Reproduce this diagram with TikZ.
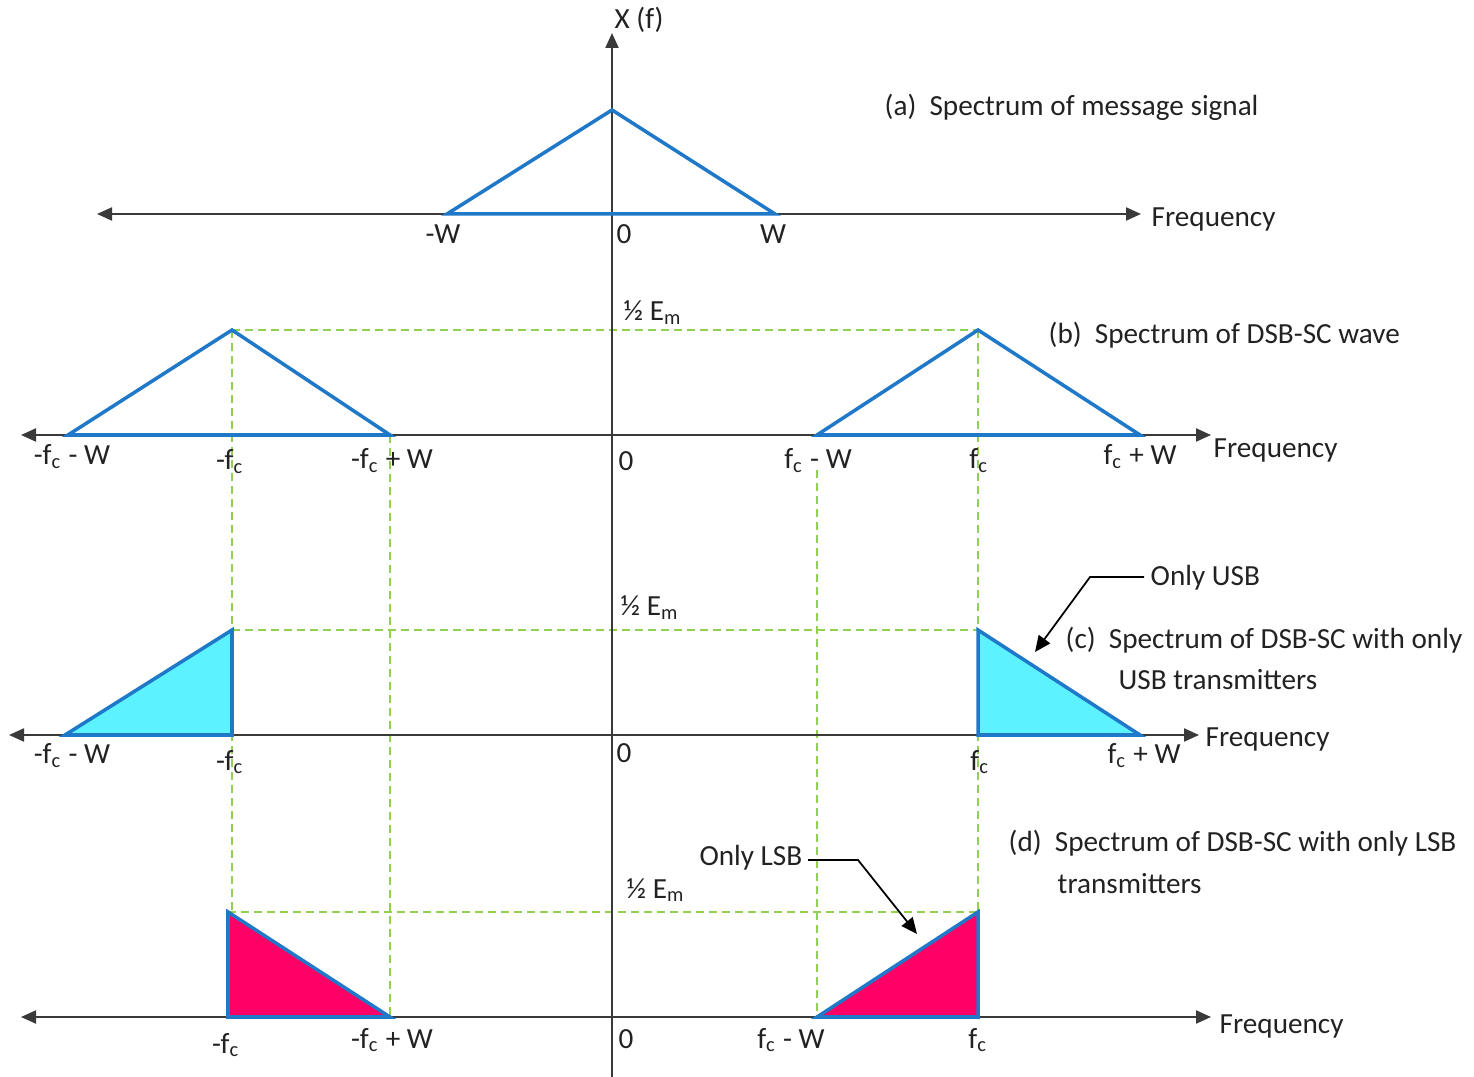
\documentclass[tikz,border=0pt]{standalone}
\usepackage{fontspec}
\setmainfont{Carlito}
\usetikzlibrary{arrows.meta,positioning}
\definecolor{Ink}{HTML}{222222}
\definecolor{Axis}{HTML}{3A3A3A}
\definecolor{Wave}{HTML}{1F78C8}
\definecolor{Guide}{HTML}{92D050}
\definecolor{UsbFill}{HTML}{5CF2FF}
\definecolor{LsbFill}{HTML}{FF0066}
\tikzset{
  axisline/.style={draw=Axis,line width=0.6pt,{Triangle[length=1.5mm,width=1.3mm]}-{Triangle[length=1.5mm,width=1.3mm]}},
  upaxis/.style={draw=Axis,line width=0.6pt,-{Triangle[length=1.5mm,width=1.3mm]}},
  spec/.style={draw=Wave,line width=1pt,line join=miter},
  guide/.style={draw=Guide,line width=0.75pt,dash pattern=on 0.8mm off 0.5mm},
  pointer/.style={draw=black,line width=0.5pt,-{Triangle[length=1.6mm,width=1.4mm]}},
  txt/.style={font=\fontsize{8.3}{10}\selectfont,text=Ink,inner sep=0pt},
  tick/.style={txt,anchor=base},
  caption/.style={txt,anchor=base west}
}

\begin{document}
\begin{tikzpicture}[x=0.01cm,y=-0.01cm]
  \useasboundingbox (0,0) rectangle (1474,1077);

  % guide lines
  \draw[guide] (232,330) -- (978,330);
  \draw[guide] (232,630) -- (978,630);
  \draw[guide] (228,912) -- (978,912);
  \draw[guide] (232,330) -- (232,912);
  \draw[guide] (390,435) -- (390,1017);
  \draw[guide] (817,470) -- (817,1017);
  \draw[guide] (978,330) -- (978,912);

  % axes
  \coordinate (ybot) at (612,1077);
  \coordinate (ytop) at (612,33);
  \draw[upaxis] (ybot) -- (ytop);
  \node[caption] (xf) at (614,29) {X (f)};

  \coordinate (a-l) at (97,214);  \coordinate (a-r) at (1141,214);
  \coordinate (b-l) at (21,435);  \coordinate (b-r) at (1211,435);
  \coordinate (c-l) at (9,735);   \coordinate (c-r) at (1199,735);
  \coordinate (d-l) at (21,1017); \coordinate (d-r) at (1211,1017);
  \draw[axisline] (a-l) -- (a-r);
  \draw[axisline] (b-l) -- (b-r);
  \draw[axisline] (c-l) -- (c-r);
  \draw[axisline] (d-l) -- (d-r);

  % (a) message spectrum
  \draw[spec] (447,214) -- (612,110) -- (775,214) -- cycle;
  \node[tick] (a-mw) at (443,244) {-W};
  \node[tick] (a-0) at (624,244) {0};
  \node[tick] (a-w) at (773,244) {W};
  \node[caption] (a-freq) at (1151,227) {Frequency};
  \node[caption] (a-cap) at (884,116) {(a)\ \ Spectrum of message signal};

  % (b) DSB-SC
  \draw[spec] (68,435) -- (232,330) -- (390,435) -- cycle;
  \draw[spec] (817,435) -- (978,330) -- (1140,435) -- cycle;
  \node[caption] (b-em) at (623,321) {½ E\textsubscript{m}};
  \node[tick] (b-1) at (72,465) {-f\textsubscript{c} - W};
  \node[tick] (b-2) at (230,470) {-f\textsubscript{c}};
  \node[tick] (b-3) at (392,469) {-f\textsubscript{c} + W};
  \node[tick] (b-0) at (626,471) {0};
  \node[tick] (b-4) at (818,469) {f\textsubscript{c} - W};
  \node[tick] (b-5) at (979,469) {f\textsubscript{c}};
  \node[tick] (b-6) at (1140,465) {f\textsubscript{c} + W};
  \node[caption] (b-freq) at (1213,458) {Frequency};
  \node[caption] (b-cap) at (1048,344) {(b)\ \ Spectrum of DSB-SC wave};

  % (c) USB only
  \draw[spec,fill=UsbFill] (65,735) -- (232,630) -- (232,735) -- cycle;
  \draw[spec,fill=UsbFill] (978,630) -- (978,735) -- (1140,735) -- cycle;
  \node[caption] (c-em) at (620,616) {½ E\textsubscript{m}};
  \node[tick] (c-1) at (72,764) {-f\textsubscript{c} - W};
  \node[tick] (c-2) at (230,770) {-f\textsubscript{c}};
  \node[tick] (c-0) at (624,762) {0};
  \node[tick] (c-5) at (980,770) {f\textsubscript{c}};
  \node[tick] (c-6) at (1144,764) {f\textsubscript{c} + W};
  \node[caption] (c-freq) at (1205,746) {Frequency};
  \node[caption] (c-cap) at (1065,649) {(c)\ \ Spectrum of DSB-SC with only};
  \node[caption] (c-cap2) at (1118,690) {USB transmitters};
  \node[caption] (usb) at (1150,586) {Only USB};
  \coordinate (usb-bend) at (1090,577);
  \coordinate (usb-tip) at (1035,652);
  \draw[pointer] ([xshift=-0.06cm]usb.west |- usb-bend) -- (usb-bend) -- (usb-tip);

  % (d) LSB only
  \draw[spec,fill=LsbFill] (228,912) -- (228,1017) -- (390,1017) -- cycle;
  \draw[spec,fill=LsbFill] (817,1017) -- (978,912) -- (978,1017) -- cycle;
  \node[caption] (d-em) at (626,898) {½ E\textsubscript{m}};
  \node[tick] (d-2) at (226,1053) {-f\textsubscript{c}};
  \node[tick] (d-3) at (392,1048) {-f\textsubscript{c} + W};
  \node[tick] (d-0) at (626,1048) {0};
  \node[tick] (d-4) at (791,1048) {f\textsubscript{c} - W};
  \node[tick] (d-5) at (978,1048) {f\textsubscript{c}};
  \node[caption] (d-freq) at (1219,1033) {Frequency};
  \node[caption] (d-cap) at (1008,851) {(d)\ \ Spectrum of DSB-SC with only LSB};
  \node[caption] (d-cap2) at (1057,893) {transmitters};
  \node[caption,anchor=base east] (lsb) at (803,865) {Only LSB};
  \coordinate (lsb-bend) at (858,860);
  \coordinate (lsb-tip) at (917,934);
  \draw[pointer] ([xshift=0.05cm]lsb.east |- lsb-bend) -- (lsb-bend) -- (lsb-tip);
\end{tikzpicture}
\end{document}
